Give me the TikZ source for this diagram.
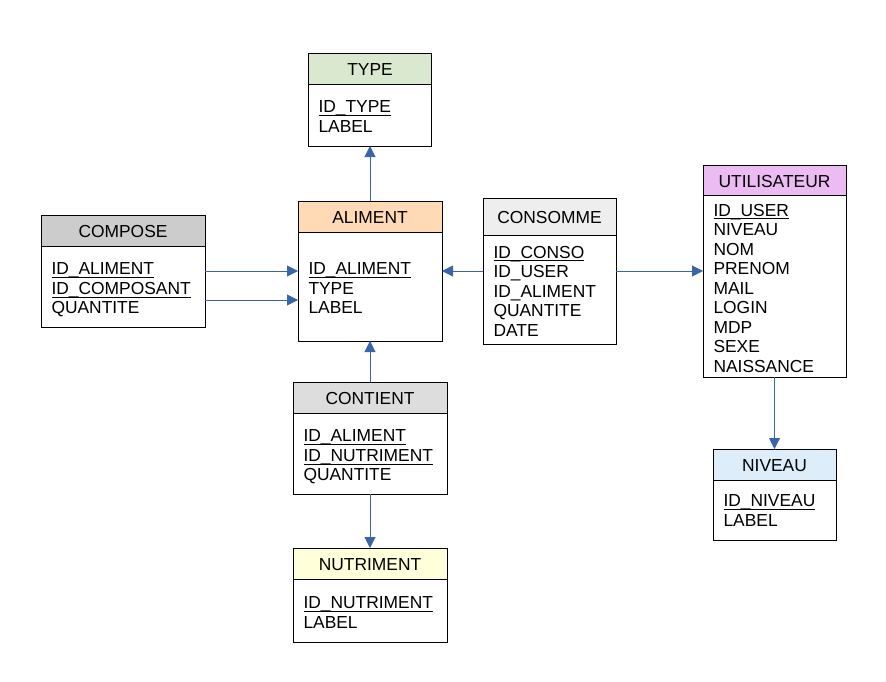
\documentclass[tikz,border=0pt]{standalone}
\usepackage{fontspec}
\setmainfont{Liberation Sans}
\usetikzlibrary{arrows.meta}

\definecolor{linkblue}{RGB}{56,102,166}
\definecolor{typefill}{HTML}{D9E8CF}
\definecolor{alimentfill}{HTML}{FFDAB4}
\definecolor{composefill}{HTML}{CCCCCC}
\definecolor{consommefill}{HTML}{EEEEEE}
\definecolor{userfill}{HTML}{EDBBF3}
\definecolor{niveaufill}{HTML}{DDEEFA}
\definecolor{contientfill}{HTML}{DDDDDD}
\definecolor{nutrimentfill}{HTML}{FFFFDA}

% primary-key field: underlined at the level of the underscore
\newcommand\pkey[1]{\setbox0\hbox{#1}\rlap{\rule[-3.2pt]{\wd0}{1.1pt}}\box0}

\begin{document}
\begin{tikzpicture}[x=1pt,y=-1pt,
  tablebox/.style={draw=black, line width=0.9pt, inner sep=0pt, outer sep=0pt},
  tablehead/.style={tablebox, anchor=north, text height=14.2pt, text depth=0pt,
    font=\fontsize{17.4}{19.5}\selectfont},
  fieldlist/.style={anchor=north west, align=left, inner sep=0pt, outer sep=0pt,
    font=\fontsize{17.4}{19.5}\selectfont},
  link/.style={draw=linkblue, line width=1pt, -{Triangle[length=11pt,width=11pt]}}]

\useasboundingbox (0,0) rectangle (886,682);
\fill[white] (0,0) rectangle (886,682);

% TYPE
\node[tablebox, minimum width=123pt, minimum height=93pt] (type) at (370,99.5) {};
\node[tablehead, fill=typefill, minimum width=123pt, minimum height=31pt] (typeh) at (type.north) {TYPE};
\node[fieldlist] (typef) at (318.5,101) {\pkey{ID\_TYPE}\\LABEL};

% ALIMENT
\node[tablebox, minimum width=144pt, minimum height=140pt] (aliment) at (370,271) {};
\node[tablehead, fill=alimentfill, minimum width=144pt, minimum height=31pt] (alimenth) at (aliment.north) {ALIMENT};
\node[fieldlist] (alimentf) at (308.5,263) {\pkey{ID\_ALIMENT}\\TYPE\\LABEL};

% COMPOSE
\node[tablebox, minimum width=164pt, minimum height=112pt] (compose) at (123,271) {};
\node[tablehead, fill=composefill, minimum width=164pt, minimum height=31pt] (composeh) at (compose.north) {COMPOSE};
\node[fieldlist] (composef) at (51.5,263) {\pkey{ID\_ALIMENT}\\\pkey{ID\_COMPOSANT}\\QUANTITE};

% CONSOMME
\node[tablebox, minimum width=133pt, minimum height=146pt] (consomme) at (549.5,271) {};
\node[tablehead, fill=consommefill, minimum width=133pt, minimum height=37pt] (consommeh) at (consomme.north) {CONSOMME};
\node[fieldlist] (consommef) at (493.5,246) {\pkey{ID\_CONSO}\\ID\_USER\\ID\_ALIMENT\\QUANTITE\\DATE};

% UTILISATEUR
\node[tablebox, minimum width=143pt, minimum height=212pt] (utilisateur) at (774.5,271) {};
\node[tablehead, fill=userfill, minimum width=143pt, minimum height=30pt] (utilisateurh) at (utilisateur.north) {UTILISATEUR};
\node[fieldlist] (utilisateurf) at (713.5,204) {\pkey{ID\_USER}\\NIVEAU\\NOM\\PRENOM\\MAIL\\LOGIN\\MDP\\SEXE\\NAISSANCE};

% NIVEAU
\node[tablebox, minimum width=123pt, minimum height=91pt] (niveau) at (774.5,494.5) {};
\node[tablehead, fill=niveaufill, minimum width=123pt, minimum height=31pt] (niveauh) at (niveau.north) {NIVEAU};
\node[fieldlist] (niveauf) at (723.5,495) {\pkey{ID\_NIVEAU}\\LABEL};

% CONTIENT
\node[tablebox, minimum width=154pt, minimum height=112pt] (contient) at (370,438) {};
\node[tablehead, fill=contientfill, minimum width=154pt, minimum height=31pt] (contienth) at (contient.north) {CONTIENT};
\node[fieldlist] (contientf) at (303.5,430) {\pkey{ID\_ALIMENT}\\\pkey{ID\_NUTRIMENT}\\QUANTITE};

% NUTRIMENT
\node[tablebox, minimum width=154pt, minimum height=94pt] (nutriment) at (370,595) {};
\node[tablehead, fill=nutrimentfill, minimum width=154pt, minimum height=31pt] (nutrimenth) at (nutriment.north) {NUTRIMENT};
\node[fieldlist] (nutrimentf) at (303.5,597) {\pkey{ID\_NUTRIMENT}\\LABEL};

% foreign-key links
\draw[link] (aliment.north) -- (type.south);
\draw[link] (compose.east) -- (aliment.west);
\draw[link] ([yshift=-29pt]compose.east) -- ([yshift=-29pt]aliment.west);
\draw[link] (consomme.west) -- (aliment.east);
\draw[link] (consomme.east) -- (utilisateur.west);
\draw[link] (contient.north) -- (aliment.south);
\draw[link] (contient.south) -- (nutriment.north);
\draw[link] (utilisateur.south) -- (niveau.north);
\end{tikzpicture}
\end{document}
